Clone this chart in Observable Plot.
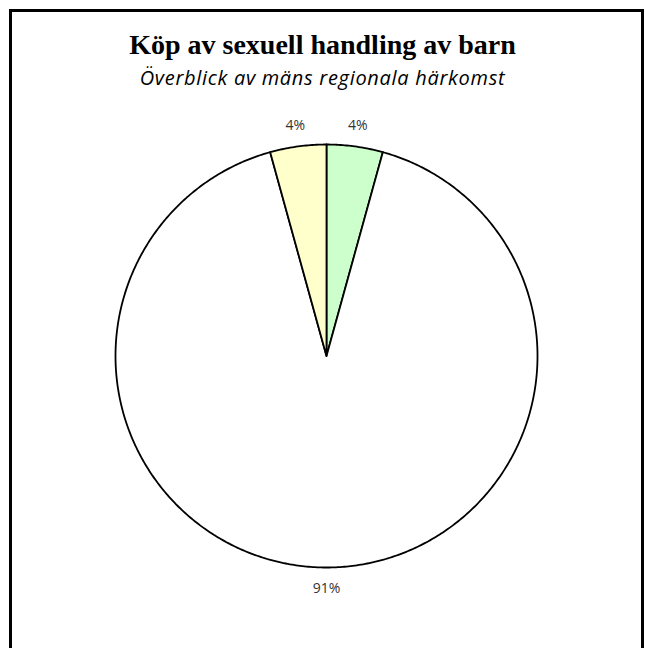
<!DOCTYPE html>
<html>
<head>
<meta charset="utf-8">
<script src="https://cdn.jsdelivr.net/npm/d3@7"></script>
<script src="https://cdn.jsdelivr.net/npm/@observablehq/plot@0.6"></script>
<style>
  html, body { margin: 0; padding: 0; background: #fff; width: 645px; height: 648px; overflow: hidden; }
  #frame { position: absolute; left: 9px; top: 9px; width: 629px; height: 700px; border: 3px solid #000; border-bottom: none; }
  #title { position: absolute; left: 0; width: 645px; top: 31px; line-height: 1; text-align: center; font-family: "Liberation Serif", serif; font-weight: bold; font-size: 28px; color: #000; }
  #subtitle { position: absolute; left: 0; width: 645px; top: 68px; line-height: 1; text-align: center; font-family: "Open Sans", sans-serif; font-style: italic; font-size: 20px; letter-spacing: 0.7px; color: #000; }
  #chart { position: absolute; left: 0; top: 0; }
</style>
</head>
<body>
<div id="frame"></div>
<div id="title">Köp av sexuell handling av barn</div>
<div id="subtitle">Överblick av mäns regionala härkomst</div>
<div id="chart"></div>
<script>
// Slices clockwise from 12 o'clock
const categories = ["Grön region", "Övriga", "Gul region"];
const values = [4.3, 91.4, 4.3];
const labels = ["4%", "91%", "4%"];
const colors = ["#ccffcc", "#ffffff", "#ffffcc"];

const pie = d3.pie().sort(null).startAngle(0).endAngle(2 * Math.PI)(values);

const polys = [];
pie.forEach((s, i) => {
  const n = Math.max(2, Math.ceil((s.endAngle - s.startAngle) / 0.01));
  polys.push({name: categories[i], color: colors[i], x: 0, y: 0});
  for (let k = 0; k <= n; k++) {
    const a = s.startAngle + (s.endAngle - s.startAngle) * k / n;
    polys.push({name: categories[i], color: colors[i], x: Math.sin(a), y: Math.cos(a)});
  }
  polys.push({name: categories[i], color: colors[i], x: 0, y: 0});
});

const labelData = pie.map((s, i) => {
  const a = (s.startAngle + s.endAngle) / 2;
  return {label: labels[i], x: 1.1 * Math.sin(a), y: 1.1 * Math.cos(a)};
});

const chart = Plot.plot({
  width: 645,
  height: 648,
  marginLeft: 115,
  marginRight: 108,
  marginTop: 144,
  marginBottom: 81,
  x: {domain: [-1, 1], axis: null},
  y: {domain: [-1, 1], axis: null},
  color: {type: "identity"},
  style: {background: "transparent", overflow: "visible"},
  marks: [
    Plot.line(polys, {x: "x", y: "y", z: "name", fill: "color", stroke: "#000", strokeWidth: 1.8, strokeLinejoin: "round"}),
    Plot.text(labelData, {x: "x", y: "y", text: "label", fontSize: 14, fill: "#333", fontFamily: "Open Sans, sans-serif"})
  ]
});
document.getElementById("chart").appendChild(chart);
</script>
</body>
</html>
